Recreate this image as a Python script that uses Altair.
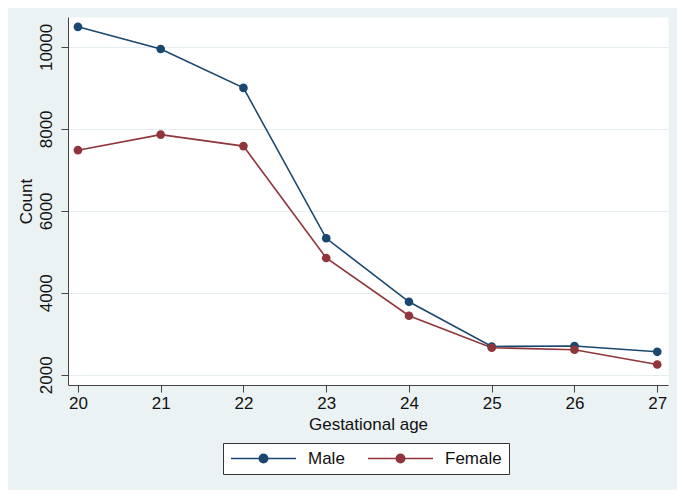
import altair as alt
import pandas as pd

ages = [20, 21, 22, 23, 24, 25, 26, 27]
male = [10490, 9950, 9000, 5330, 3780, 2690, 2700, 2560]
female = [7480, 7860, 7580, 4850, 3440, 2660, 2610, 2250]
series = ["Male", "Female"]
colors = ["#1a476f", "#90353b"]
y_ticks = [2000, 4000, 6000, 8000, 10000]

rows = []
for a, m, f in zip(ages, male, female):
    rows.append({"age": a, "count": m, "sex": "Male"})
    rows.append({"age": a, "count": f, "sex": "Female"})
df = pd.DataFrame(rows)

FONT = "Liberation Sans"
sym = "M-1,0L1,0M-0.13,0A0.13,0.13,0,1,1,0.13,0A0.13,0.13,0,1,1,-0.13,0Z"

x = alt.X("age:Q", title="Gestational age",
          scale=alt.Scale(domain=[19.88, 27.13], nice=False, zero=False),
          axis=alt.Axis(values=ages, grid=False, format="d", labelFontSize=17,
                        titleFontSize=17, titleFontWeight="normal", tickSize=7, labelPadding=3,
                        titlePadding=5, domainColor="#444", tickColor="#444",
                        labelColor="#111", titleColor="#111", labelFont=FONT, titleFont=FONT))
y = alt.Y("count:Q", title="Count",
          scale=alt.Scale(domain=[1750, 10730], nice=False, zero=False),
          axis=alt.Axis(values=y_ticks, grid=True, gridColor="#e4eef0", format="d",
                        labelFontSize=17,
                        labelAngle=270, labelAlign="center", labelBaseline="bottom",
                        titleFontSize=17, titleFontWeight="normal", tickSize=7,
                        labelPadding=6, titlePadding=2,
                        domainColor="#444", tickColor="#444",
                        labelColor="#111", titleColor="#111", labelFont=FONT, titleFont=FONT))

legend = alt.Legend(title=None, orient="none", legendX=155, legendY=426,
                    direction="horizontal", fillColor="white",
                    strokeColor="#333", padding=7,
                    labelFontSize=17, labelFont=FONT, labelColor="#111",
                    labelOffset=11, columnPadding=22,
                    symbolType=sym, symbolSize=4225,
                    symbolStrokeWidth=1.5, clipHeight=17)
color = alt.Color("sex:N", scale=alt.Scale(domain=series, range=colors), legend=legend)

line = alt.Chart(df).mark_line(strokeWidth=1.6).encode(x=x, y=y, color=color)
pts = alt.Chart(df).mark_point(filled=True, size=75, opacity=1).encode(x=x, y=y, color=color)

chart = alt.layer(line, pts).properties(
    width=600, height=368,
    background="#eaf2f3",
    view=alt.ViewBackground(fill="white", stroke="transparent"),
    padding={"left": 60, "top": 9, "right": 9, "bottom": 105},
    autosize=alt.AutoSizeParams(type="none"),
).configure_view(fill="white", stroke="transparent")

chart.save("out.html", embed_options={"renderer": "svg", "actions": False})
